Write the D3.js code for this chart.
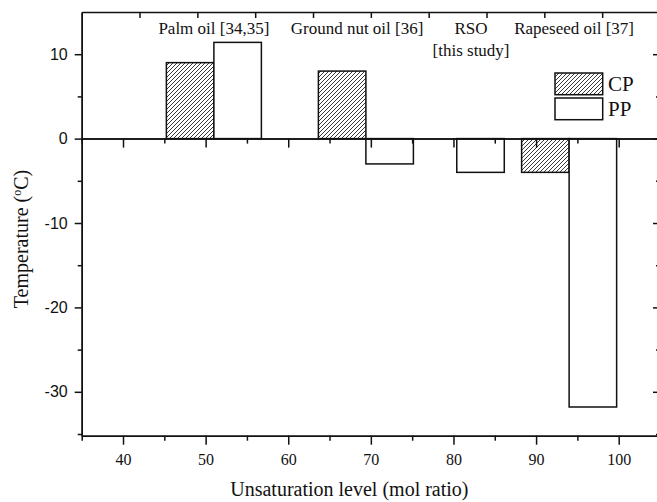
<!DOCTYPE html>
<html>
<head>
<meta charset="utf-8">
<script src="https://cdn.jsdelivr.net/npm/d3@7"></script>
<style>
  html, body { margin: 0; padding: 0; background: #fff; }
  svg { display: block; }
</style>
</head>
<body>
<svg id="chart" width="657" height="502"></svg>
<script>
// Oils compared by unsaturation level: cloud point (CP) and pour point (PP)
const oils = ["Palm oil [34,35]", "Ground nut oil [36]", "RSO", "Rapeseed oil [37]"];
const oilSubLabels = ["", "", "[this study]", ""];
const unsaturation = [51.0, 69.4, 80.4, 94.0];   // mol ratio
const cpValues = [9.0, 8.0, null, -4.0];          // °C
const ppValues = [11.4, -3.0, -4.0, -31.8];       // °C
const seriesNames = ["CP", "PP"];
const xTicksMajor = [40, 50, 60, 70, 80, 90, 100];
const xTicksMinor = [35, 45, 55, 65, 75, 85, 95];
const yTicksMajor = [-30, -20, -10, 0, 10];
const yTicksMinor = [-35, -25, -15, -5, 5];

// Layout
const barWidth = 5.75;                       // in mol-ratio units
const labelShift = [0, -1.07, 1.73, 0.6];     // label anchor shift from the bar pair
const plot = { left: 81.7, right: 660, top: 12, bottom: 435.7 };

const svg = d3.select("#chart");
const x = d3.scaleLinear().domain([35, 105]).range([plot.left, plot.right]);
const y = d3.scaleLinear().domain([-35.2, 15]).range([plot.bottom, plot.top]);
const xTop = d3.scaleLinear().domain([0, 10]).range([plot.left, plot.right]);

const serif = "'Liberation Serif', 'Times New Roman', serif";
const sans = "'Liberation Sans', Arial, sans-serif";

// Hatch pattern for CP bars
const defs = svg.append("defs");
const pat = defs.append("pattern")
  .attr("id", "hatch")
  .attr("patternUnits", "userSpaceOnUse")
  .attr("width", 4).attr("height", 4);
pat.append("rect").attr("width", 4).attr("height", 4).attr("fill", "#fff");
pat.append("path")
  .attr("d", "M-1,1 l2,-2 M0,4 l4,-4 M3,5 l2,-2")
  .attr("stroke", "#222").attr("stroke-width", 0.9);

// Bars
const bars = [];
oils.forEach((name, i) => {
  if (cpValues[i] !== null) bars.push({ series: "CP", x0: unsaturation[i] - barWidth, x1: unsaturation[i], v: cpValues[i] });
  if (ppValues[i] !== null) bars.push({ series: "PP", x0: unsaturation[i], x1: unsaturation[i] + barWidth, v: ppValues[i] });
});

svg.append("g").selectAll("rect")
  .data(bars)
  .join("rect")
  .attr("x", d => x(d.x0))
  .attr("width", d => x(d.x1) - x(d.x0))
  .attr("y", d => y(Math.max(0, d.v)))
  .attr("height", d => Math.abs(y(d.v) - y(0)))
  .attr("fill", d => d.series === "CP" ? "url(#hatch)" : "#fff")
  .attr("stroke", "#111")
  .attr("stroke-width", 1.5);

function styleAxis(g, fontFamily) {
  g.select(".domain").attr("stroke", "#111").attr("stroke-width", 1.5);
  g.selectAll(".tick line").attr("stroke", "#111").attr("stroke-width", 1.5);
  g.selectAll(".tick text").attr("fill", "#111").style("font-family", fontFamily).style("font-size", "16px");
}

// Zero line with downward ticks
const zeroMinor = svg.append("g").attr("transform", `translate(0,${y(0)})`)
  .call(d3.axisBottom(x).tickValues(xTicksMinor).tickSize(5).tickFormat("").tickSizeOuter(0));
styleAxis(zeroMinor, serif);
const zeroMajor = svg.append("g").attr("transform", `translate(0,${y(0)})`)
  .call(d3.axisBottom(x).tickValues(xTicksMajor).tickSize(9).tickFormat("").tickSizeOuter(0));
styleAxis(zeroMajor, serif);

// Bottom axis
const bottomMinor = svg.append("g").attr("transform", `translate(0,${plot.bottom})`)
  .call(d3.axisBottom(x).tickValues(xTicksMinor).tickSize(5).tickFormat("").tickSizeOuter(0));
styleAxis(bottomMinor, serif);
const bottomMajor = svg.append("g").attr("transform", `translate(0,${plot.bottom})`)
  .call(d3.axisBottom(x).tickValues(xTicksMajor).tickSize(9).tickPadding(9).tickFormat(d => String(d)).tickSizeOuter(0));
styleAxis(bottomMajor, serif);

// Left axis
const leftMinor = svg.append("g").attr("transform", `translate(${plot.left},0)`)
  .call(d3.axisLeft(y).tickValues(yTicksMinor).tickSize(4).tickFormat("").tickSizeOuter(0));
styleAxis(leftMinor, sans);
const leftMajor = svg.append("g").attr("transform", `translate(${plot.left},0)`)
  .call(d3.axisLeft(y).tickValues(yTicksMajor).tickSize(7).tickPadding(7).tickFormat(d => String(d)).tickSizeOuter(0));
styleAxis(leftMajor, sans);

// Right axis, ticks pointing inward
const rightMinor = svg.append("g").attr("transform", `translate(${plot.right},0)`)
  .call(d3.axisLeft(y).tickValues(yTicksMinor).tickSize(4).tickFormat("").tickSizeOuter(0));
styleAxis(rightMinor, sans);
const rightMajor = svg.append("g").attr("transform", `translate(${plot.right},0)`)
  .call(d3.axisLeft(y).tickValues(yTicksMajor).tickSize(7).tickFormat("").tickSizeOuter(0));
styleAxis(rightMajor, sans);

// Top axis, ticks pointing inward
const topAxis = svg.append("g").attr("transform", `translate(0,${plot.top})`)
  .call(d3.axisBottom(xTop).tickValues(d3.range(1, 10)).tickSize(6).tickFormat("").tickSizeOuter(0));
styleAxis(topAxis, sans);

// Oil labels above the bars
const labels = svg.append("g").style("font-family", serif).style("font-size", "17px").attr("fill", "#111");
oils.forEach((name, i) => {
  const cx = x(unsaturation[i] + labelShift[i]);
  labels.append("text").attr("x", cx).attr("y", 34).attr("text-anchor", "middle").text(name);
  if (oilSubLabels[i]) {
    labels.append("text").attr("x", cx).attr("y", 56).attr("text-anchor", "middle").text(oilSubLabels[i]);
  }
});

// Axis titles
svg.append("text")
  .attr("x", x(67.4)).attr("y", 496)
  .attr("text-anchor", "middle")
  .style("font-family", serif).style("font-size", "20px").attr("fill", "#111")
  .text("Unsaturation level (mol ratio)");

svg.append("text")
  .attr("transform", `translate(28,${y(-11.9)}) rotate(-90)`)
  .attr("text-anchor", "middle")
  .style("font-family", serif).style("font-size", "20px").attr("fill", "#111")
  .html("Temperature (<tspan dy='-7' font-size='12'>o</tspan><tspan dy='7'>C)</tspan>");

// Legend
const legend = svg.append("g").attr("transform", "translate(555,73)");
seriesNames.forEach((s, i) => {
  const g = legend.append("g").attr("transform", `translate(0,${i * 25})`);
  g.append("rect").attr("width", 47.7).attr("height", 21.7)
    .attr("fill", s === "CP" ? "url(#hatch)" : "#fff")
    .attr("stroke", "#111").attr("stroke-width", 1.5);
  g.append("text").attr("x", 53).attr("y", 18)
    .style("font-family", serif).style("font-size", "21px").attr("fill", "#111")
    .text(s);
});
</script>
</body>
</html>
